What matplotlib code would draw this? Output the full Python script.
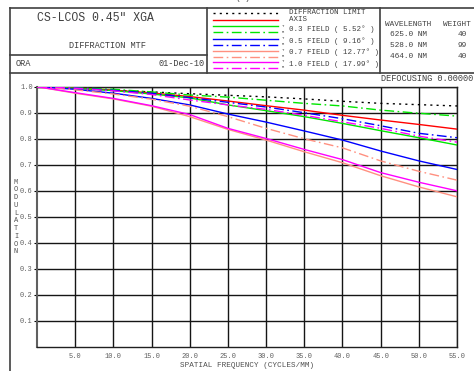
import numpy as np
import matplotlib
matplotlib.use("Agg")
import matplotlib.pyplot as plt
from matplotlib.lines import Line2D

plt.rcParams['font.family'] = ['Liberation Mono', 'DejaVu Sans Mono']

# spatial frequency (cycles/mm)
freq = [0, 5, 10, 15, 20, 25, 30, 35, 40, 45, 50, 55]

# MTF values
diff_limit = [1.0, 0.993, 0.986, 0.980, 0.973, 0.967, 0.961, 0.953, 0.944, 0.936, 0.931, 0.926]
axis_mtf = [1.0, 0.995, 0.987, 0.976, 0.962, 0.945, 0.927, 0.910, 0.890, 0.872, 0.855, 0.837]
f03_t = [1.0, 0.994, 0.985, 0.972, 0.957, 0.930, 0.908, 0.885, 0.859, 0.831, 0.804, 0.776]
f03_r = [1.0, 0.996, 0.990, 0.980, 0.968, 0.960, 0.948, 0.936, 0.926, 0.910, 0.898, 0.887]
f05_t = [1.0, 0.990, 0.975, 0.955, 0.930, 0.895, 0.864, 0.830, 0.795, 0.753, 0.715, 0.682]
f05_r = [1.0, 0.995, 0.986, 0.975, 0.958, 0.940, 0.922, 0.900, 0.877, 0.850, 0.821, 0.804]
f07_t = [1.0, 0.975, 0.953, 0.925, 0.885, 0.836, 0.795, 0.750, 0.708, 0.658, 0.615, 0.577]
f07_r = [1.0, 0.988, 0.972, 0.952, 0.925, 0.885, 0.840, 0.800, 0.765, 0.715, 0.675, 0.641]
f10_t = [1.0, 0.977, 0.955, 0.927, 0.893, 0.840, 0.801, 0.759, 0.720, 0.670, 0.633, 0.600]
f10_r = [1.0, 0.994, 0.984, 0.970, 0.949, 0.930, 0.913, 0.890, 0.865, 0.840, 0.810, 0.787]

xtick_vals = [5, 10, 15, 20, 25, 30, 35, 40, 45, 50, 55]
ytick_vals = [0.1, 0.2, 0.3, 0.4, 0.5, 0.6, 0.7, 0.8, 0.9, 1.0]

field_labels = ['0.3 FIELD ( 5.52\u00b0 )', '0.5 FIELD ( 9.16\u00b0 )',
                '0.7 FIELD ( 12.77\u00b0 )', '1.0 FIELD ( 17.99\u00b0 )']
wavelengths = ['625.0 NM', '528.0 NM', '464.0 NM']
weights = ['40', '99', '40']

W, H = 474, 371
def fx(x):
    return x / W
def fy(y):
    return 1 - y / H

DD = (0, (7, 2.5, 1.2, 2.5))
red, green, blue, salmon, magenta = '#ff0000', '#00e600', '#0000ff', '#ff9080', '#ff00ff'
series = [
    (diff_limit, 'black', (0, (1.5, 3))),
    (axis_mtf, red, '-'),
    (f03_t, green, '-'), (f03_r, green, DD),
    (f05_t, blue, '-'), (f05_r, blue, DD),
    (f07_t, salmon, '-'), (f07_r, salmon, DD),
    (f10_t, magenta, '-'), (f10_r, magenta, DD),
]

fig = plt.figure(figsize=(W / 100, H / 100), dpi=100)

ax = fig.add_axes([fx(37), fy(347), 420 / W, 260.3 / H])
for vals, c, ls in series:
    ax.plot(freq, vals, color=c, linestyle=ls, lw=1.0, zorder=3)
ax.set_xlim(0, 55)
ax.set_ylim(0, 1.0)
ax.set_xticks(xtick_vals)
ax.set_xticklabels(['%.1f' % v for v in xtick_vals])
ax.set_yticks(ytick_vals)
ax.set_yticklabels(['%.1f' % v for v in ytick_vals])
ax.grid(True, color='#151515', lw=1.0)
ax.tick_params(axis='x', length=0, labelsize=5, labelcolor='#606060', pad=4)
ax.tick_params(axis='y', length=2, labelsize=5, labelcolor='#606060', pad=1)
for s in ax.spines.values():
    s.set_color('#202020')
    s.set_linewidth(1.0)
ax.spines['left'].set_color('#606060')
ax.spines['left'].set_linewidth(1.5)
ax.set_xlabel('SPATIAL FREQUENCY (CYCLES/MM)', fontsize=5.5, color='#505050', labelpad=2)
fig.text(fx(16), fy(217), '\n'.join('MODULATION'), fontsize=5, color='#505050',
         ha='center', va='center', linespacing=1.15)

# frame and header boxes
def hline(y, x0, x1, lw=1.2, c='#404040'):
    fig.add_artist(Line2D([fx(x0), fx(x1)], [fy(y), fy(y)], color=c, lw=lw))
def vline(x, y0, y1, lw=1.2, c='#404040'):
    fig.add_artist(Line2D([fx(x), fx(x)], [fy(y0), fy(y1)], color=c, lw=lw))

hline(8, 10, 474)
hline(55, 10, 207)
hline(73, 10, 474)
vline(10, 8, 371)
vline(207, 8, 73)
vline(380, 8, 73)

tc = '#404040'
fig.text(fx(95), fy(18), 'CS-LCOS 0.45" XGA', fontsize=8.3, color=tc, ha='center', va='center')
fig.text(fx(107), fy(45), 'DIFFRACTION MTF', fontsize=6.2, color=tc, ha='center', va='center')
fig.text(fx(16), fy(64), 'ORA', fontsize=6.2, color=tc, ha='left', va='center')
fig.text(fx(205), fy(64), '01-Dec-10', fontsize=6.2, color=tc, ha='right', va='center')
fig.text(fx(243), fy(2), '(a)', fontsize=6, color=tc, ha='center', va='bottom')

# legend
leg_y = [13, 20, 26, 32, 39, 44.5, 51, 56.5, 62, 68]
for (vals, c, ls), y in zip(series, leg_y):
    fig.add_artist(Line2D([fx(213), fx(278)], [fy(y), fy(y)], color=c, ls=ls, lw=1.0))
fs = 5.4
fig.text(fx(289), fy(12.5), 'DIFFRACTION LIMIT', fontsize=fs, color=tc, va='center')
fig.text(fx(289), fy(19.5), 'AXIS', fontsize=fs, color=tc, va='center')
for i, lab in enumerate(field_labels):
    yc = 29 + i * 11.8
    fig.text(fx(289), fy(yc), lab, fontsize=fs, color=tc, va='center')
    fig.text(fx(283), fy(yc - 3), 'T', fontsize=2.8, color=tc, ha='center', va='center')
    fig.text(fx(283), fy(yc + 3), 'R', fontsize=2.8, color=tc, ha='center', va='center')

fig.text(fx(385), fy(25), 'WAVELENGTH', fontsize=5.6, color=tc, va='center')
fig.text(fx(443), fy(25), 'WEIGHT', fontsize=5.6, color=tc, va='center')
for i, (wl, wt) in enumerate(zip(wavelengths, weights)):
    yc = 35 + i * 10.5
    fig.text(fx(390), fy(yc), wl, fontsize=5.6, color=tc, va='center')
    fig.text(fx(467), fy(yc), wt, fontsize=5.6, color=tc, va='center', ha='right')

fig.text(fx(473), fy(78.5), 'DEFOCUSING 0.00000', fontsize=6.2, color=tc, ha='right', va='center')

fig.savefig('out.png', dpi=100)
